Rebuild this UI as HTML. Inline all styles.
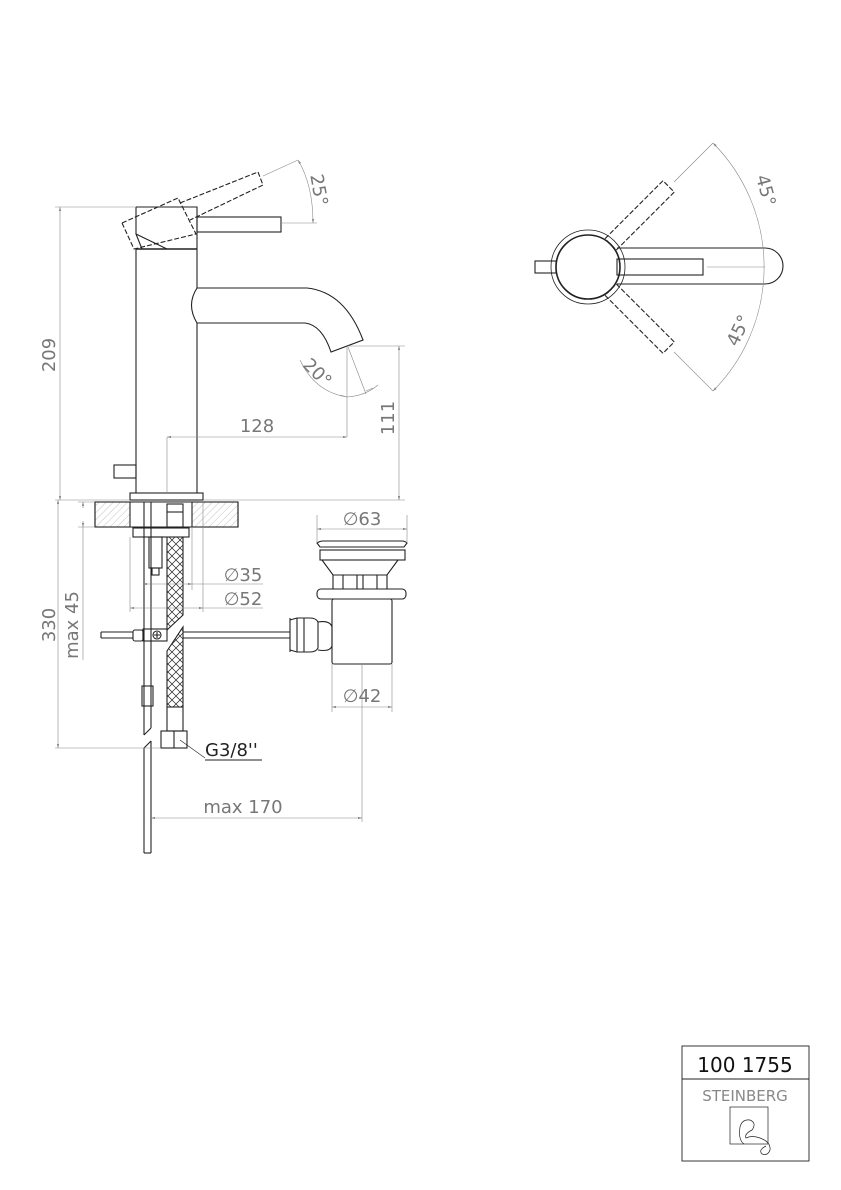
<!DOCTYPE html>
<html><head><meta charset="utf-8"><style>
html,body{margin:0;padding:0;background:#fff}
svg{display:block}
text{font-family:"DejaVu Sans","Liberation Sans",sans-serif;fill:#777}
</style></head><body>
<svg width="841" height="1190" viewBox="0 0 841 1190" xmlns="http://www.w3.org/2000/svg">
<defs>
<pattern id="h" width="5" height="5" patternUnits="userSpaceOnUse" patternTransform="rotate(45)">
<line x1="0" y1="0" x2="0" y2="5" stroke="#999" stroke-width="0.6"/></pattern>
<pattern id="br" width="8" height="8" patternUnits="userSpaceOnUse">
<path d="M0 0 L4 4 L0 8 M4 4 L8 0 M4 4 L8 8" stroke="#222" stroke-width="0.7" fill="none"/></pattern>
<marker id="a" viewBox="0 0 10 6" refX="10" refY="3" markerWidth="7" markerHeight="4" orient="auto-start-reverse"><path d="M0 0 L10 3 L0 6z" fill="#888"/></marker>
</defs>
<g fill="none" stroke="#222" stroke-width="1.1">
<line x1="136" y1="249" x2="136" y2="493"/>
<line x1="197" y1="249" x2="197" y2="288"/>
<line x1="197" y1="323" x2="197" y2="493"/>
<line x1="136" y1="249" x2="197" y2="249" stroke-width="1.6"/>
<path d="M136 207 H197 V249 M136 207 V234 L142 249 M136 234 L167 249"/>
<rect x="197" y="217" width="84" height="15"/>
<rect x="114" y="465" width="22" height="13"/>
<rect x="130" y="493" width="73" height="7"/>
<path d="M197 288 H307 Q345 292 363 340 L331 352 Q322 325 305 323 H197 M197 288 Q186 305 197 323"/>
<g stroke-dasharray="5,2">
<path d="M122 223 L178 198 L196 234 L134 249 Z"/>
<path d="M180 203 L258 172 L263 185 L190 220"/>
</g>
<rect x="95" y="502" width="143" height="25" fill="url(#h)"/>
<rect x="130" y="502" width="62" height="25" fill="#fff" stroke="none"/>
<line x1="95" y1="502" x2="238" y2="502"/><line x1="95" y1="527" x2="238" y2="527"/>
<line x1="95" y1="502" x2="95" y2="527"/><line x1="238" y1="502" x2="238" y2="527"/>
<line x1="130" y1="502" x2="130" y2="527"/><line x1="192" y1="502" x2="192" y2="527"/>
<rect x="167" y="504" width="16" height="23"/>
<line x1="167" y1="512" x2="183" y2="512"/>
<rect x="133" y="528" width="56" height="9"/>
<rect x="149" y="537" width="13" height="31"/>
<rect x="152" y="568" width="7" height="7"/>
<line x1="144" y1="502" x2="144" y2="735"/><line x1="151" y1="502" x2="151" y2="728"/>
<path d="M144 735 L151 728 M144 748 L151 741"/>
<line x1="144" y1="748" x2="144" y2="853"/><line x1="151" y1="741" x2="151" y2="853"/>
<line x1="144" y1="853" x2="151" y2="853"/>
<rect x="142" y="686" width="11" height="20"/>
<path d="M167 537 H183 V615 L167 630 Z" fill="url(#br)"/>
<path d="M167 651 L183 627 V707 H167 Z" fill="url(#br)"/>
<rect x="167" y="707" width="16" height="24"/>
<rect x="161" y="731" width="26" height="17"/>
<line x1="174" y1="731" x2="174" y2="748"/>
<path d="M101 632 H133 M101 638 H133 M101 632 V638"/>
<rect x="133" y="630" width="10" height="11" rx="2"/>
<rect x="143" y="629" width="24" height="12"/>
<circle cx="157" cy="635" r="4"/>
<path d="M154 635 H160 M157 632 V638"/>
<path d="M183 632 H290 M183 638 H290"/>
<path d="M317 543 Q320 541 323 541 H402 Q405 541 407 543 L404 547 H320 Z"/>
<rect x="320" y="550" width="85" height="10"/>
<path d="M322 560 L333 575 H387 L398 560"/>
<path d="M333 575 V589 M387 575 V589 M343 575 V589 M357 575 V589 M363 575 V589 M377 575 V589"/>
<rect x="317" y="589" width="89" height="10" rx="4"/>
<rect x="332" y="599" width="60" height="65" rx="2"/>
<path d="M290 618 V652 M290 620 L297 618 H310 Q316 618 318 622 V648 Q316 652 310 652 H297 L290 650 M297 618 V652 M304 618 V652"/>
<path d="M318 622 Q330 620 332 627 V646 Q330 652 318 650"/>
<circle cx="588" cy="267" r="37" stroke-width="0.8"/>
<circle cx="588" cy="267" r="32" stroke-width="1.6"/>
<rect x="535" y="261" width="21" height="12"/>
<path d="M617 248 H765 A18 18 0 0 1 765 284 H617"/>
<rect x="617" y="259" width="86" height="16"/>
<g stroke-dasharray="5,2">
<rect x="620" y="259" width="82" height="16" transform="rotate(-45 588 267)"/>
<rect x="620" y="259" width="82" height="16" transform="rotate(45 588 267)"/>
</g>
<rect x="682" y="1046" width="127" height="115" stroke-width="0.9"/>
<line x1="682" y1="1079" x2="809" y2="1079" stroke-width="0.9"/>
<rect x="730" y="1107" width="38" height="37" stroke-width="0.7"/>
<path d="M744 1144 Q738 1140 740 1127 Q742 1119 750 1120 Q757 1123 752 1130 Q744 1134 746 1138 Q752 1135 760 1138 Q771 1142 770 1150 Q768 1156 762 1154 Q758 1150 766 1146" stroke-width="0.7"/>
</g>
<g fill="none" stroke="#888" stroke-width="0.6">
<line x1="55" y1="207" x2="136" y2="207"/>
<line x1="55" y1="500" x2="130" y2="500"/>
<line x1="60" y1="207" x2="60" y2="500" marker-start="url(#a)" marker-end="url(#a)"/>
<line x1="203" y1="500" x2="405" y2="500"/>
<line x1="348" y1="346" x2="405" y2="346"/>
<line x1="399" y1="346" x2="399" y2="500" marker-start="url(#a)" marker-end="url(#a)"/>
<line x1="167" y1="437" x2="167" y2="493"/>
<line x1="347" y1="346" x2="347" y2="437"/>
<line x1="167" y1="437" x2="347" y2="437" marker-start="url(#a)" marker-end="url(#a)"/>
<line x1="263" y1="176" x2="298" y2="160"/>
<line x1="282" y1="223" x2="317" y2="223"/>
<path d="M298 160 Q313 185 313 223" marker-start="url(#a)" marker-end="url(#a)"/>
<line x1="348" y1="347" x2="366" y2="394"/>
<path d="M300 360 Q315 392 347 397 Q365 396 378 385" />
<path d="M347 397 L340 395 M366 391 L373 388" stroke="#888"/>
<line x1="55" y1="748" x2="161" y2="748"/>
<line x1="58" y1="500" x2="58" y2="748" marker-start="url(#a)" marker-end="url(#a)"/>
<line x1="78" y1="502" x2="95" y2="502"/><line x1="78" y1="527" x2="95" y2="527"/>
<line x1="83" y1="508" x2="83" y2="502" marker-end="url(#a)"/>
<line x1="83" y1="521" x2="83" y2="527" marker-end="url(#a)"/>
<line x1="83" y1="527" x2="83" y2="660"/>
<line x1="317" y1="515" x2="317" y2="543"/><line x1="407" y1="515" x2="407" y2="543"/>
<line x1="317" y1="529" x2="407" y2="529" marker-start="url(#a)" marker-end="url(#a)"/>
<line x1="143" y1="584" x2="192" y2="584" marker-start="url(#a)" marker-end="url(#a)"/>
<line x1="192" y1="584" x2="263" y2="584"/>
<line x1="192" y1="527" x2="192" y2="590"/>
<line x1="130" y1="537" x2="130" y2="612"/><line x1="203" y1="500" x2="203" y2="612"/>
<line x1="130" y1="608" x2="203" y2="608" marker-start="url(#a)" marker-end="url(#a)"/>
<line x1="203" y1="608" x2="263" y2="608"/>
<line x1="332" y1="664" x2="332" y2="712"/><line x1="392" y1="664" x2="392" y2="712"/>
<line x1="332" y1="707" x2="392" y2="707" marker-start="url(#a)" marker-end="url(#a)"/>
<line x1="362" y1="664" x2="362" y2="822"/>
<line x1="151" y1="818" x2="362" y2="818" marker-start="url(#a)" marker-end="url(#a)"/>
<line x1="180" y1="740" x2="205" y2="758" stroke="#222"/>
<line x1="205" y1="760" x2="262" y2="760" stroke="#222" stroke-width="0.9"/>
<line x1="707" y1="267" x2="765" y2="267"/>
<path d="M713 143 A176 176 0 0 1 713 391" marker-start="url(#a)" marker-end="url(#a)"/>
<line x1="674" y1="182" x2="713" y2="143"/>
<line x1="674" y1="352" x2="713" y2="391"/>
</g>
<g font-size="18">
<text transform="translate(55,355) rotate(-90)" text-anchor="middle">209</text>
<text transform="translate(394,418) rotate(-90)" text-anchor="middle">111</text>
<text x="257" y="432" text-anchor="middle">128</text>
<text transform="translate(313,191) rotate(80)" text-anchor="middle">25°</text>
<text transform="translate(313,377) rotate(45)" text-anchor="middle">20°</text>
<text transform="translate(55,625) rotate(-90)" text-anchor="middle">330</text>
<text transform="translate(78,625) rotate(-90)" text-anchor="middle">max 45</text>
<text x="362" y="525" text-anchor="middle">∅63</text>
<text x="243" y="581" text-anchor="middle">∅35</text>
<text x="243" y="605" text-anchor="middle">∅52</text>
<text x="362" y="702" text-anchor="middle">∅42</text>
<text x="243" y="813" text-anchor="middle">max 170</text>
<text x="205" y="756" style="fill:#222">G3/8''</text>
<text transform="translate(760,192) rotate(75)" text-anchor="middle">45°</text>
<text transform="translate(744,333) rotate(-65)" text-anchor="middle">45°</text>
<text x="745" y="1072" text-anchor="middle" font-size="20" style="fill:#111">100 1755</text>
<text x="745" y="1101" text-anchor="middle" font-size="15" style="fill:#888">STEINBERG</text>
</g>
</svg>
</body></html>
